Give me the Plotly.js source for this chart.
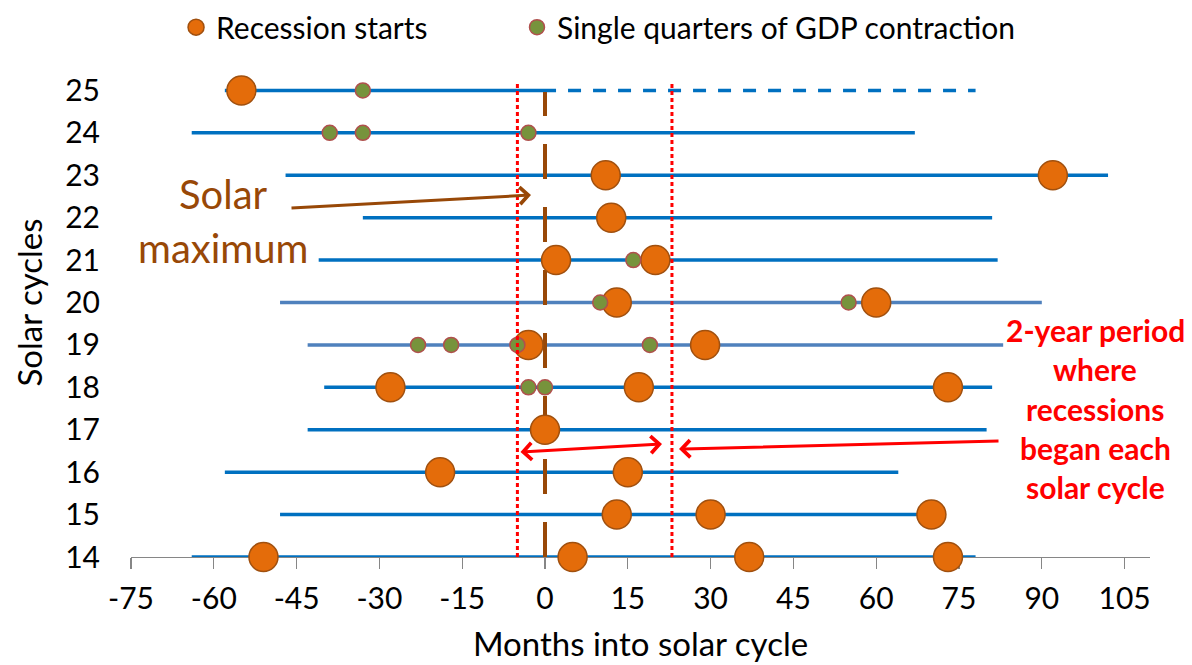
<!DOCTYPE html>
<html>
<head>
<meta charset="utf-8">
<script src="https://cdn.plot.ly/plotly-3.0.1.min.js"></script>
<style>
  html, body { margin: 0; padding: 0; background: #ffffff; }
  #chart { width: 1192px; height: 665px; }
</style>
</head>
<body>
<div id="chart"></div>
<script>
// ---- Data ----
const cycles      = [14, 15, 16, 17, 18, 19, 20, 21, 22, 23, 24, 25];
const cycleStart  = [-64, -48, -58, -43, -40, -43, -48, -41, -33, -47, -64, -58];
const cycleEnd    = [78, 71, 64, 80, 81, 83, 90, 82, 81, 102, 67, 78];
const cycle25Now  = 2;   // solid part of cycle 25 ends here, rest is projected (dashed)

const recessionMonths = [-51, 5, 37, 73,  13, 30, 70,  -19, 15,  0,  -28, 17, 73,  -3, 29,  13, 60,  2, 20,  12,  11, 92,  -55];
const recessionCycles = [14, 14, 14, 14,  15, 15, 15,  16, 16,  17,  18, 18, 18,  19, 19,  20, 20,  21, 21,  22,  23, 23,  25];

const gdpMonths = [-3, 0,  -23, -17, -5, 19,  10, 55,  16,  -39, -33, -3,  -33];
const gdpCycles = [18, 18,  19, 19, 19, 19,  20, 20,  21,  24, 24, 24,  25];

const xTickVals   = [-75, -60, -45, -30, -15, 0, 15, 30, 45, 60, 75, 90, 105];
const xTickLabels = ["-75", "-60", "-45", "-30", "-15", "0", "15", "30", "45", "60", "75", "90", "105"];

const solarMaxMonth = 0;
const windowStart = -5;
const windowEnd = 23;

const legendNames = ["Recession starts", "Single quarters of GDP contraction"];
const xTitle = "Months into solar cycle";
const yTitle = "Solar cycles";
const noteLines = ["2-year period", "where", "recessions", "began each", "solar cycle"];
const solarLines = ["Solar", "maximum"];

// ---- Styles ----
const FONT = "Lato, 'Open Sans', sans-serif";
const BLUE = "#0070C0";
const BLUE_LIGHT = "#4F81BD";
const BROWN = "#984807";
const RED = "#FF0000";

const traces = [];
cycles.forEach((c, i) => {
  const col = (c === 19 || c === 20) ? BLUE_LIGHT : BLUE;
  const end = (c === 25) ? cycle25Now : cycleEnd[i];
  traces.push({
    type: "scatter", mode: "lines",
    x: [cycleStart[i], end], y: [c, c],
    line: { color: col, width: 3.5 },
    showlegend: false, hoverinfo: "skip", cliponaxis: false
  });
  if (c === 25) {
    traces.push({
      type: "scatter", mode: "lines",
      x: [cycle25Now, cycleEnd[i]], y: [c, c],
      line: { color: col, width: 3.5, dash: "0px,12px,13px,0px" },
      showlegend: false, hoverinfo: "skip", cliponaxis: false
    });
  }
});

// Solar maximum dashed line (above cycle lines, below markers)
traces.push({
  type: "scatter", mode: "lines",
  x: [solarMaxMonth, solarMaxMonth], y: [cycles[0], 24.96],
  line: { color: BROWN, width: 4, dash: "35px,28px" },
  showlegend: false, hoverinfo: "skip", cliponaxis: false
});

traces.push({
  type: "scatter", mode: "markers", name: legendNames[0], legend: "legend",
  x: recessionMonths, y: recessionCycles,
  marker: { size: 29, color: "#E46C0A", line: { color: "#A0500F", width: 1.5 } },
  cliponaxis: false
});
traces.push({
  type: "scatter", mode: "markers", name: legendNames[1], legend: "legend2",
  x: gdpMonths, y: gdpCycles,
  marker: { size: 15, color: "#77933C", line: { color: "#B0504D", width: 1.5 } },
  cliponaxis: false
});

// helpers to convert pixel estimates into data coordinates for annotations
const px2x = p => (p - 545) / 5.52;
const py2y = p => 14 + (557 - p) / 42.42;

const annotations = [];
annotations.push({ x: px2x(223.5), y: py2y(194), xref: "x", yref: "y", text: solarLines[0], showarrow: false,
  font: { family: FONT, size: 40, color: BROWN } });
annotations.push({ x: px2x(222.5), y: py2y(248), xref: "x", yref: "y", text: solarLines[1], showarrow: false,
  font: { family: FONT, size: 40, color: BROWN } });
// brown arrow
annotations.push({ x: px2x(531), y: py2y(195), ax: px2x(290), ay: py2y(208), xref: "x", yref: "y", axref: "x", ayref: "y",
  text: "", showarrow: true, arrowhead: 4, arrowsize: 1.1, arrowwidth: 3, arrowcolor: BROWN });
// red double arrow
annotations.push({ x: px2x(662), y: py2y(444), ax: px2x(519), ay: py2y(452), xref: "x", yref: "y", axref: "x", ayref: "y",
  text: "", showarrow: true, arrowhead: 4, startarrowhead: 4, arrowside: "end+start", arrowsize: 1.1, startarrowsize: 1.1,
  arrowwidth: 3, arrowcolor: RED });
// red single arrow
annotations.push({ x: px2x(679), y: py2y(449), ax: px2x(1000), ay: py2y(441), xref: "x", yref: "y", axref: "x", ayref: "y",
  text: "", showarrow: true, arrowhead: 4, arrowsize: 1.1, arrowwidth: 3, arrowcolor: RED });
const noteY = [330, 369, 409, 448, 487];
noteLines.forEach((t, i) => {
  annotations.push({ x: px2x(1095), y: py2y(noteY[i]), xref: "x", yref: "y", text: "<b>" + t + "</b>", showarrow: false,
    font: { family: FONT, size: 30, color: RED } });
});

const shapes = [windowStart, windowEnd].map(v => ({
  type: "line", xref: "x", yref: "y", x0: v, x1: v, y0: 14, y1: 25.2,
  line: { color: RED, width: 3, dash: "4px,3px" }, layer: "above"
}));

const legendCommon = {
  orientation: "h", y: 1.041, xanchor: "left", yanchor: "middle",
  font: { family: FONT, size: 30, color: "#000000" }, bgcolor: "rgba(0,0,0,0)"
};

const layout = {
  width: 1192, height: 665,
  margin: { l: 131, r: 42, t: 48, b: 108, pad: 0, autoexpand: false },
  paper_bgcolor: "#ffffff", plot_bgcolor: "#ffffff",
  font: { family: FONT, color: "#000000" },
  showlegend: true,
  legend: Object.assign({ x: 0.0442 }, legendCommon),
  legend2: Object.assign({ x: 0.3788 }, legendCommon),
  xaxis: {
    range: [-75, 109.6], tickmode: "array", tickvals: xTickVals, ticktext: xTickLabels,
    showgrid: false, zeroline: false, showline: true, linecolor: "#868686", linewidth: 1.2,
    ticks: "outside", ticklen: 11, tickcolor: "#868686", tickwidth: 1.2,
    tickfont: { family: FONT, size: 30, color: "#000000" },
    ticklabelstandoff: 4,
    title: { text: xTitle, font: { family: FONT, size: 33, color: "#000000" }, standoff: 18 },
    layer: "below traces", fixedrange: true, automargin: false
  },
  yaxis: {
    range: [14, 26], tickmode: "array", tickvals: cycles, ticktext: cycles.map(String),
    showgrid: false, zeroline: false, showline: false, ticks: "",
    tickfont: { family: FONT, size: 30, color: "#000000" },
    ticklabelstandoff: 30,
    title: { text: yTitle, font: { family: FONT, size: 33, color: "#000000" }, standoff: 12 },
    fixedrange: true, automargin: false
  },
  shapes: shapes,
  annotations: annotations
};

Plotly.newPlot("chart", traces, layout, { displayModeBar: false, staticPlot: true });
</script>
</body>
</html>
